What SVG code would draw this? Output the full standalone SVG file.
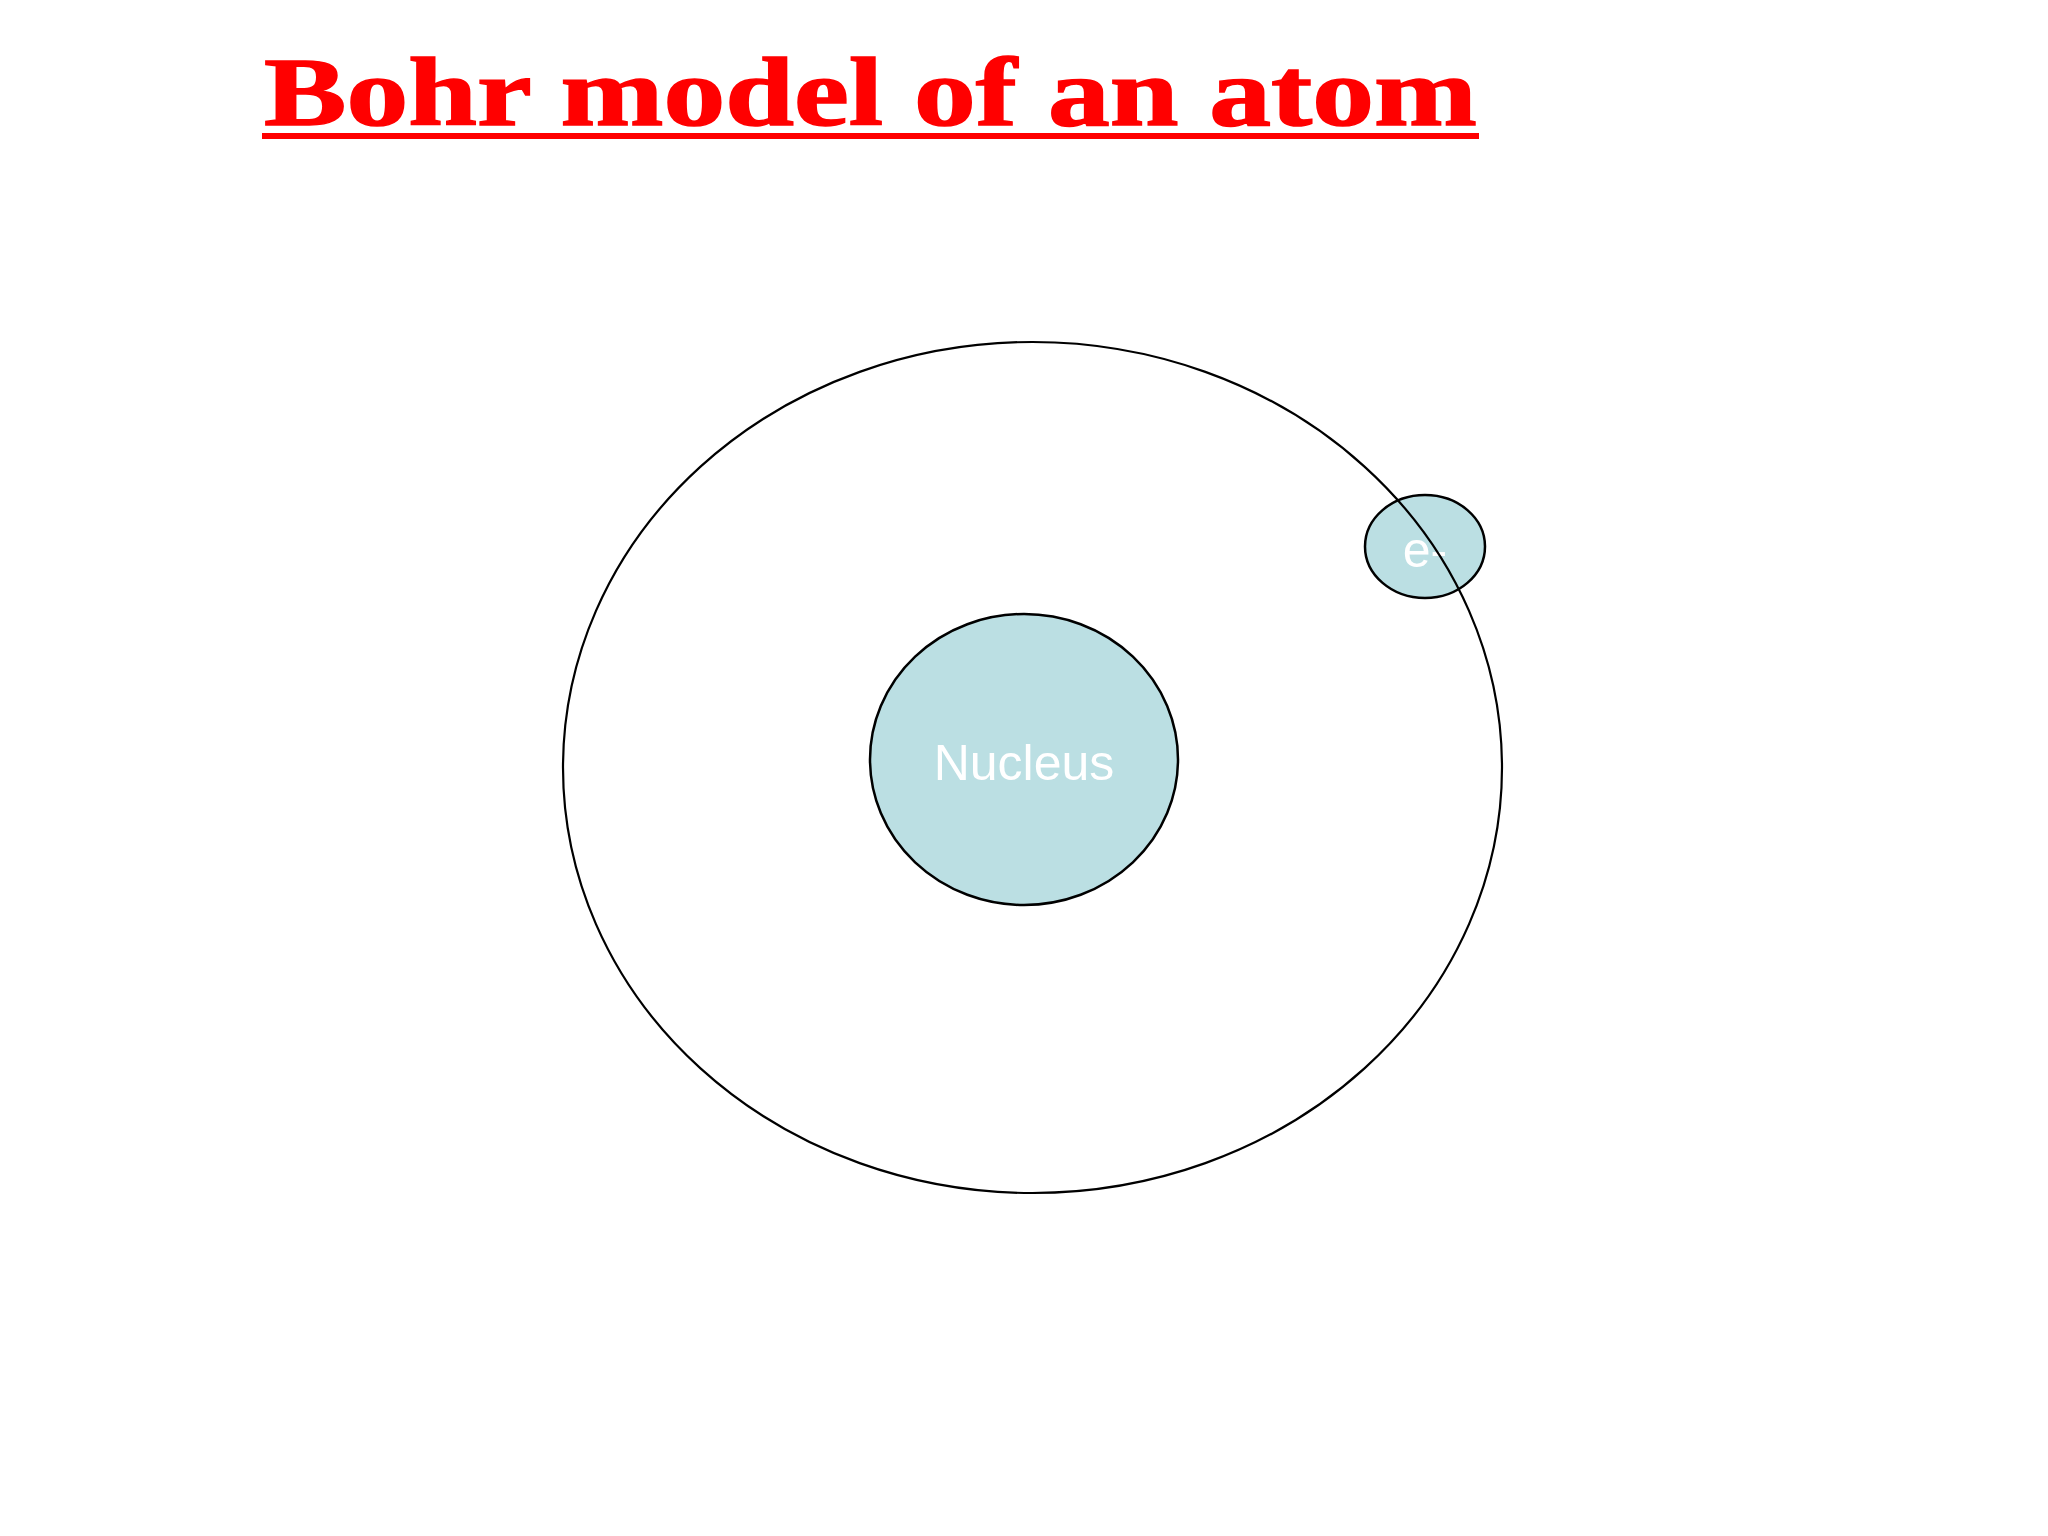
<svg xmlns="http://www.w3.org/2000/svg" width="2048" height="1536" viewBox="0 0 2048 1536">
  <style>
    .particle { fill: #bbdfe3; stroke: #000000; stroke-width: 2.5; }
    .orbit { fill: none; stroke: #000000; stroke-width: 2.2; }
    .label { font-family: "Liberation Sans", Arial, sans-serif; fill: #ffffff; text-anchor: middle; }
    .title { font-family: "Liberation Serif", "Times New Roman", serif; font-weight: bold; fill: #ff0000; stroke: #ff0000; stroke-width: 1.5; }
  </style>
  <rect x="0" y="0" width="2048" height="1536" fill="#ffffff"/>
  <g id="title">
    <text class="title" x="264" y="125" font-size="98" textLength="1213" lengthAdjust="spacingAndGlyphs">Bohr model of an atom</text>
    <rect x="262" y="133" width="1217" height="6" fill="#ff0000"/>
  </g>
  <g id="nucleus">
    <ellipse class="particle" cx="1024" cy="759.5" rx="154" ry="145.5"/>
    <text class="label" x="1024" y="780" font-size="50">Nucleus</text>
  </g>
  <g id="electron">
    <ellipse class="particle" cx="1425" cy="546.5" rx="60" ry="51.5"/>
    <text class="label" x="1425" y="567" font-size="50">e-</text>
  </g>
  <g id="orbit">
    <ellipse class="orbit" cx="1032.5" cy="767.5" rx="469.5" ry="425.5"/>
  </g>
</svg>
